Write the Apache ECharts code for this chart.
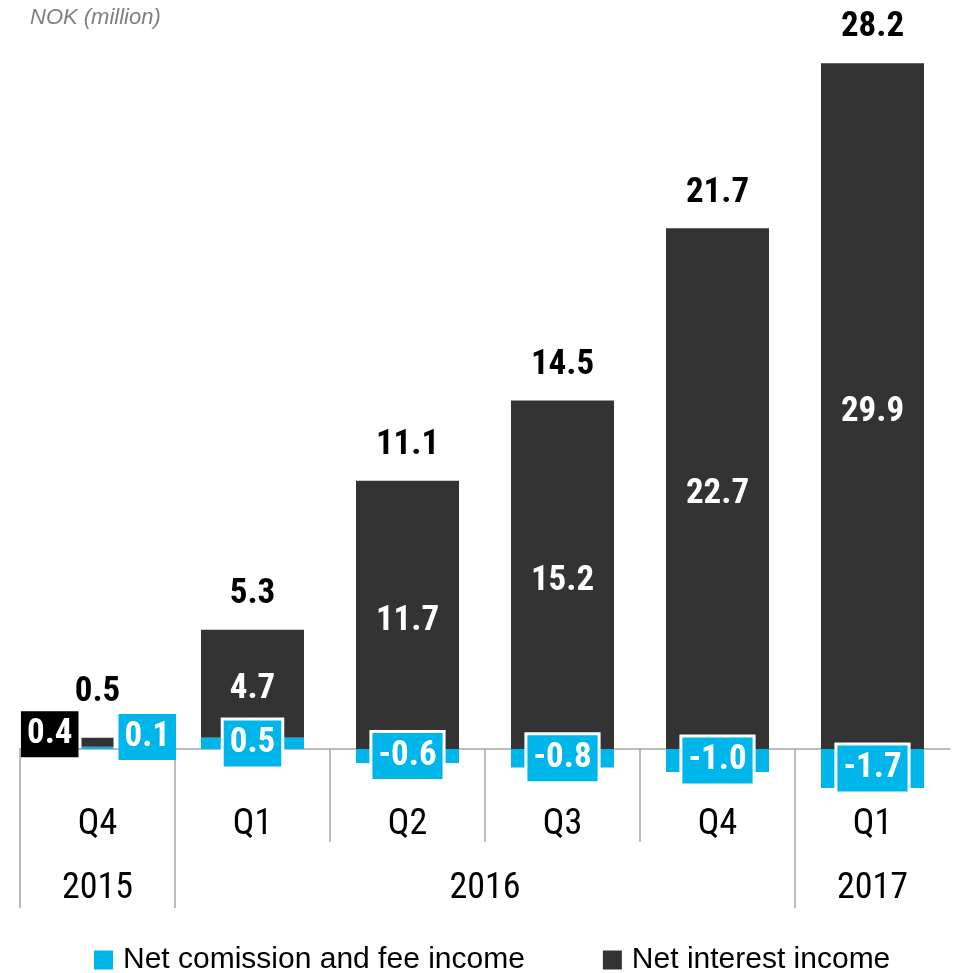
<!DOCTYPE html>
<html>
<head>
<meta charset="utf-8">
<script src="https://cdn.jsdelivr.net/npm/echarts@6/dist/echarts.min.js"></script>
<style>
  html, body { margin: 0; padding: 0; background: #ffffff; }
  #chart { width: 957px; height: 973px; }
</style>
</head>
<body>
<div id="chart"></div>
<script>
// Quarterly income, NOK million
const quarters = ['Q4', 'Q1', 'Q2', 'Q3', 'Q4', 'Q1'];
const years = ['2015', '2016', '2017'];
const feeIncome = [0.1, 0.5, -0.6, -0.8, -1.0, -1.7];
const interestIncome = [0.4, 4.7, 11.7, 15.2, 22.7, 29.9];
const totals = [0.5, 5.3, 11.1, 14.5, 21.7, 28.2];

const FEE_NAME = 'Net comission and fee income';
const INT_NAME = 'Net interest income';
const CYAN = '#00B5E9';
const DARK = '#333333';
const GRID_LINE = '#A6A6A6';
const NARROW = "'Liberation Sans Narrow', 'Arial Narrow', 'Roboto Condensed', 'Noto Sans Condensed', 'DejaVu Sans Condensed', sans-serif";
const REGULAR = "'Liberation Sans', Arial, sans-serif";

// The first quarter is drawn as a slim bar on its own axis; the rest share the wide layout.
const firstOnly = arr => arr.map((v, i) => (i === 0 ? v : '-'));
const restOnly = arr => arr.map((v, i) => (i === 0 ? '-' : v));
const fmt = v => v.toFixed(1);

const valueBox = {
  color: '#ffffff',
  fontFamily: NARROW,
  fontWeight: 'bold',
  fontSize: 35,
  lineHeight: 36,
  padding: [5, 6]
};

const totalLabel = {
  show: true,
  position: 'top',
  distance: 18,
  color: '#000000',
  fontFamily: NARROW,
  fontWeight: 'bold',
  fontSize: 35,
  formatter: p => fmt(totals[p.dataIndex])
};

const chart = echarts.init(document.getElementById('chart'), null, { renderer: 'canvas' });

chart.setOption({
  animation: false,
  backgroundColor: '#ffffff',
  title: {
    text: 'NOK (million)',
    left: 30,
    top: 7,
    padding: 0,
    textStyle: {
      fontFamily: REGULAR,
      fontStyle: 'italic',
      fontWeight: 'normal',
      fontSize: 22,
      color: '#7F7F7F'
    }
  },
  legend: {
    data: [FEE_NAME, INT_NAME],
    left: 94,
    top: 945,
    width: 860,
    padding: 0,
    icon: 'rect',
    itemWidth: 19,
    itemHeight: 19,
    itemGap: 78,
    selectedMode: false,
    textStyle: {
      fontFamily: REGULAR,
      fontSize: 30,
      color: '#000000',
      padding: [0, 0, 0, 5]
    }
  },
  grid: { left: 20, right: 7, top: 15, bottom: 178, containLabel: false },
  xAxis: [
    {
      // main category axis: baseline and quarter labels
      type: 'category',
      data: quarters,
      position: 'bottom',
      axisLine: { show: true, onZero: true, onZeroAxisIndex: 0, lineStyle: { color: GRID_LINE, width: 1.5 } },
      axisTick: { show: false },
      axisLabel: { margin: 12, fontFamily: NARROW, fontSize: 36, color: '#000000' },
      splitLine: { show: false }
    },
    {
      // axis carrying the slim first-quarter stack
      type: 'category',
      data: quarters,
      show: false,
      position: 'bottom',
      axisLine: { onZero: true, onZeroAxisIndex: 0 }
    },
    {
      // year separators and year labels
      type: 'value',
      min: 0,
      max: 6,
      position: 'bottom',
      axisLine: { show: false, onZero: true, onZeroAxisIndex: 0 },
      splitLine: { show: false },
      axisTick: {
        show: true,
        customValues: [0, 1, 5],
        length: 159,
        lineStyle: { color: GRID_LINE, width: 1.5 }
      },
      axisLabel: {
        show: true,
        customValues: [0.5, 3, 5.5],
        margin: 76,
        fontFamily: NARROW,
        fontSize: 36,
        color: '#000000',
        formatter: v => years[[0.5, 3, 5.5].indexOf(v)]
      }
    },
    {
      // quarter separators within a year
      type: 'value',
      min: 0,
      max: 6,
      position: 'bottom',
      axisLine: { show: false, onZero: true, onZeroAxisIndex: 0 },
      splitLine: { show: false },
      axisTick: {
        show: true,
        customValues: [2, 3, 4],
        length: 93,
        lineStyle: { color: GRID_LINE, width: 1.5 }
      },
      axisLabel: { show: false }
    }
  ],
  yAxis: {
    type: 'value',
    min: -2,
    max: 32,
    show: false,
    splitLine: { show: false }
  },
  series: [
    {
      name: FEE_NAME,
      type: 'bar',
      xAxisIndex: 0,
      stack: 'main',
      barWidth: 103,
      itemStyle: { color: CYAN },
      data: restOnly(feeIncome),
      z: 2,
      label: Object.assign({
        show: true,
        position: 'inside',
        backgroundColor: CYAN,
        borderColor: '#ffffff',
        borderWidth: 3,
        formatter: p => fmt(p.value)
      }, valueBox),
      labelLayout: { hideOverlap: false }
    },
    {
      name: INT_NAME,
      type: 'bar',
      xAxisIndex: 0,
      stack: 'main',
      barWidth: 103,
      itemStyle: { color: DARK },
      data: restOnly(interestIncome),
      z: 1,
      label: Object.assign({
        show: true,
        position: 'inside',
        offset: [0, 6],
        formatter: p => fmt(p.value)
      }, valueBox, { padding: 0 })
    },
    {
      name: 'Total',
      type: 'bar',
      xAxisIndex: 0,
      stack: 'main',
      barWidth: 103,
      itemStyle: { color: 'transparent' },
      data: restOnly(totals.map(() => 0)),
      label: totalLabel
    },
    {
      name: FEE_NAME,
      type: 'bar',
      xAxisIndex: 1,
      stack: 'first',
      barWidth: 32,
      itemStyle: { color: CYAN },
      data: firstOnly(feeIncome),
      label: Object.assign({
        show: true,
        position: 'right',
        distance: 5,
        offset: [0, -11],
        backgroundColor: CYAN,
        formatter: p => fmt(p.value)
      }, valueBox, { padding: [5, 6] })
    },
    {
      name: INT_NAME,
      type: 'bar',
      xAxisIndex: 1,
      stack: 'first',
      barWidth: 32,
      itemStyle: { color: DARK },
      data: firstOnly(interestIncome),
      label: Object.assign({
        show: true,
        position: 'left',
        distance: 3,
        offset: [0, -8],
        backgroundColor: '#000000',
        formatter: p => fmt(p.value)
      }, valueBox, { padding: [5, 6] })
    },
    {
      name: 'Total',
      type: 'bar',
      xAxisIndex: 1,
      stack: 'first',
      barWidth: 32,
      itemStyle: { color: 'transparent' },
      data: firstOnly(totals.map(() => 0)),
      label: Object.assign({}, totalLabel, { offset: [0, -10] })
    }
  ]
});
</script>
</body>
</html>
